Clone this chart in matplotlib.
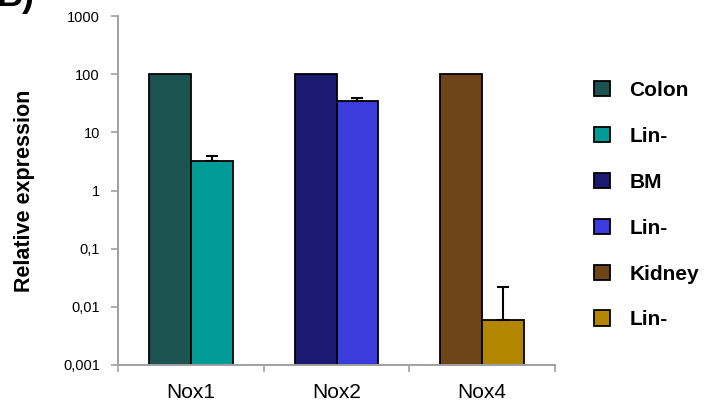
import numpy as np
import matplotlib.pyplot as plt
from matplotlib.ticker import FixedLocator

plt.rcParams["font.family"] = ["Liberation Sans", "DejaVu Sans"]

# relative expression, tissue = 100 reference, Lin- cells measured
genes = ["Nox1", "Nox2", "Nox4"]
tissue_labels = ["Colon", "BM", "Kidney"]
tissue_values = [100, 100, 100]
lin_values = [3.2, 34.5, 0.006]
lin_err_up = [0.7, 4.0, 0.016]

tissue_colors = ["#1B5350", "#1B1A73", "#6E4419"]
lin_colors = ["#009A97", "#3C3CDC", "#B38600"]

AXIS_GREY = "#A0A0A0"

fig = plt.figure(figsize=(7.07, 4.17), dpi=100)
ax = fig.add_axes([118 / 707, 1 - 365 / 417, (555 - 118) / 707, (365 - 16) / 417])

w = 0.287
x = np.arange(len(genes))
handles = []
for i in range(len(genes)):
    b1 = ax.bar(x[i] - w / 2, tissue_values[i], w, bottom=0.001,
                color=tissue_colors[i], edgecolor="black", lw=1.3, zorder=2)
    b2 = ax.bar(x[i] + w / 2, lin_values[i] - 0.001, w, bottom=0.001,
                color=lin_colors[i], edgecolor="black", lw=1.3, zorder=2)
    ax.errorbar(x[i] + w / 2, lin_values[i], yerr=[[0], [lin_err_up[i]]],
                fmt="none", ecolor="black", elinewidth=1.5, capsize=4.5,
                capthick=1.5, zorder=3)
    handles += [(b1, tissue_labels[i]), (b2, "Lin-")]

ax.set_yscale("log")
ax.set_ylim(0.001, 1000)
ax.set_xlim(-0.5, 2.5)

yticks = [0.001, 0.01, 0.1, 1, 10, 100, 1000]
ax.yaxis.set_major_locator(FixedLocator(yticks))
ax.yaxis.set_minor_locator(FixedLocator([]))
ax.set_yticklabels(["0,001", "0,01", "0,1", "1", "10", "100", "1000"], fontsize=10.5)
ax.set_ylabel("Relative expression", fontsize=15.5, fontweight="bold", labelpad=20)

ax.set_xticks(x)
ax.set_xticklabels(genes, fontsize=15)
ax.set_xticks([-0.5, 0.5, 1.5, 2.5], minor=True)
ax.tick_params(axis="x", which="major", length=0, pad=13)
ax.tick_params(axis="x", which="minor", length=5, width=1.2, color=AXIS_GREY)
ax.tick_params(axis="y", which="major", length=5, width=1.2, color=AXIS_GREY, pad=8)

for s in ("top", "right"):
    ax.spines[s].set_visible(False)
for s in ("left", "bottom"):
    ax.spines[s].set_color(AXIS_GREY)
    ax.spines[s].set_linewidth(1.4)

leg = ax.legend([h for h, _ in handles], [l for _, l in handles],
                loc="upper left", bbox_to_anchor=(594 / 707, 1 - 81 / 417),
                bbox_transform=fig.transFigure, frameon=False,
                prop={"weight": "bold", "size": 15}, handlelength=0.75,
                handleheight=0.75, handletextpad=0.95, labelspacing=1.29,
                borderpad=0, borderaxespad=0)

fig.text(-3 / 707, 1 - 6 / 417, "B)", fontsize=26, fontweight="bold",
         va="baseline", ha="left")

fig.savefig("out.png", dpi=100)
